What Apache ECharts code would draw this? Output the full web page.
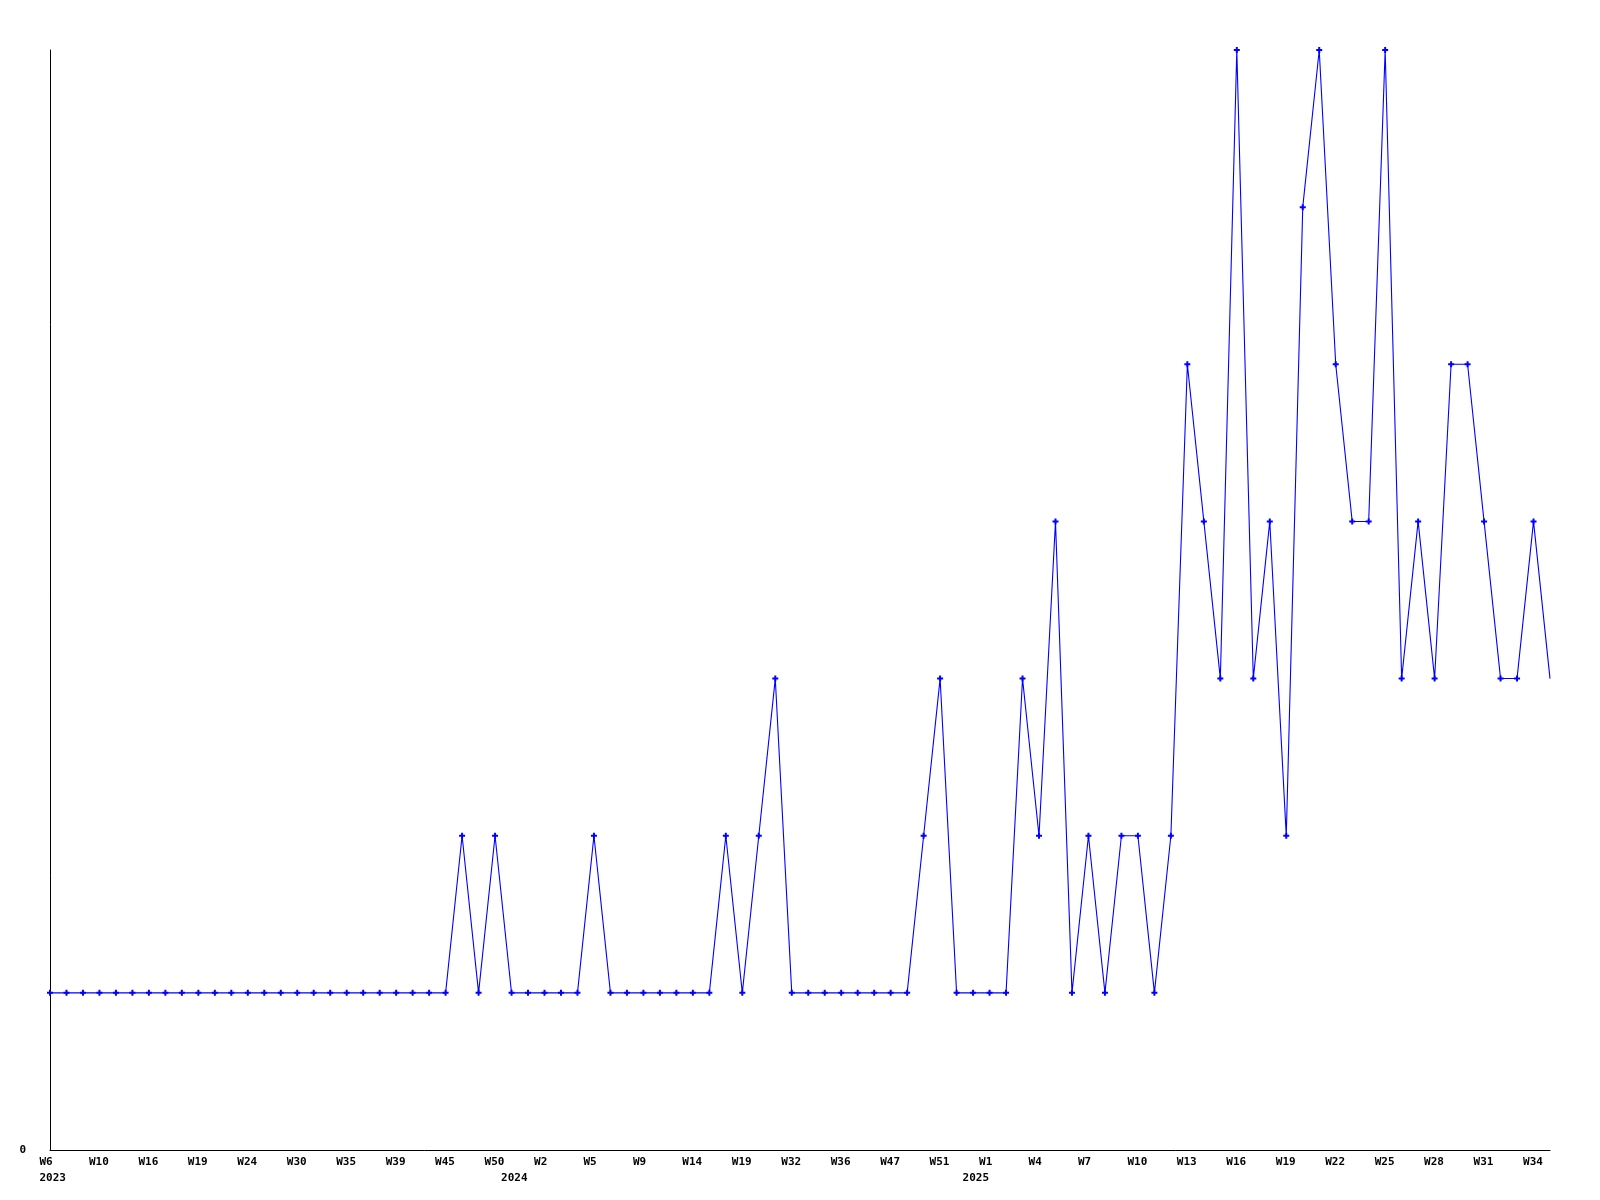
<!DOCTYPE html>
<html>
<head>
<meta charset="utf-8">
<script src="https://cdn.jsdelivr.net/npm/echarts@6/dist/echarts.min.js"></script>
<style>
html,body{margin:0;padding:0;background:#fff;}
#chart{width:1600px;height:1200px;}
</style>
</head>
<body>
<div id="chart"></div>
<script>
const weekLabels = [
  'W6','W7','W8','W10','W12','W14','W16','W17','W18','W19',
  'W21','W22','W24','W26','W28','W30','W32','W33','W35','W36',
  'W37','W39','W41','W43','W45','W47','W48','W50','W52','W1',
  'W2','W3','W4','W5','W6','W8','W9','W11','W12','W14',
  'W16','W17','W19','W22','W27','W32','W33','W35','W36','W40',
  'W43','W47','W48','W50','W51','W52','W1','W1','W2','W3',
  'W4','W5','W6','W7','W8','W9','W10','W11','W12','W13',
  'W14','W15','W16','W17','W18','W19','W20','W21','W22','W23',
  'W24','W25','W26','W27','W28','W29','W30','W31','W32','W33',
  'W34','W35'
];
const yearLabels = {0: '2023', 28: '2024', 56: '2025'};
const counts = [
  1,1,1,1,1, 1,1,1,1,1, 1,1,1,1,1, 1,1,1,1,1, 1,1,1,1,1,
  2,1,2,1,1,
  1,1,1,2,1,
  1,1,1,1,1,
  1,2,1,2,3,
  1,1,1,1,1,
  1,1,1,2,3,
  1,1,1,1,3,
  2,4,1,2,1,
  2,2,1,2,5,
  4,3,7,3,4,
  2,6,7,5,4,
  4,7,3,4,3,
  5,5,4,3,3,
  4,3
];
const yMin = 0, yMax = 7;

const FONT = 'DejaVu Sans Mono';
const labelRich = {a: {width: 21, align: 'left', fontFamily: FONT, fontWeight: 'bold', fontSize: 11, color: '#000', lineHeight: 11}};

const seriesData = counts.map((v, i) => i === counts.length - 1 ? {value: v, symbol: 'none'} : v);

const chart = echarts.init(document.getElementById('chart'), null, {renderer: 'canvas'});
chart.setOption({
  animation: false,
  backgroundColor: '#ffffff',
  grid: {left: 50, right: 50, top: 50, bottom: 50, containLabel: false},
  xAxis: [
    {
      type: 'category',
      data: weekLabels,
      boundaryGap: false,
      axisLine: {show: true, lineStyle: {color: '#000', width: 1}},
      axisTick: {show: false},
      splitLine: {show: false},
      axisLabel: {
        interval: 2,
        margin: 7,
        align: 'center',
        formatter: (v) => '{a|' + v + '}',
        rich: labelRich
      }
    },
    {
      type: 'category',
      data: weekLabels,
      boundaryGap: false,
      position: 'bottom',
      offset: 16,
      axisLine: {show: false},
      axisTick: {show: false},
      splitLine: {show: false},
      axisLabel: {
        interval: (idx) => yearLabels[idx] !== undefined,
        margin: 7,
        align: 'center',
        formatter: (v, idx) => '{a|' + (yearLabels[idx] || '') + '}',
        rich: labelRich
      }
    }
  ],
  yAxis: {
    type: 'value',
    min: yMin,
    max: yMax,
    interval: 7,
    axisLine: {show: true, lineStyle: {color: '#000', width: 1}},
    axisTick: {show: false},
    splitLine: {show: false},
    axisLabel: {
      margin: 24,
      fontFamily: FONT,
      fontWeight: 'bold',
      fontSize: 11,
      color: '#000',
      formatter: (v) => v === 0 ? '0' : ''
    }
  },
  series: [{
    type: 'line',
    data: seriesData,
    xAxisIndex: 0,
    symbol: 'path://M1,0H2V1H3V2H2V3H1V2H0V1H1Z',
    symbolSize: 6,
    showAllSymbol: true,
    lineStyle: {color: '#0000ff', width: 1.1},
    itemStyle: {color: '#0000ff'},
    emphasis: {disabled: true}
  }]
});
</script>
</body>
</html>
